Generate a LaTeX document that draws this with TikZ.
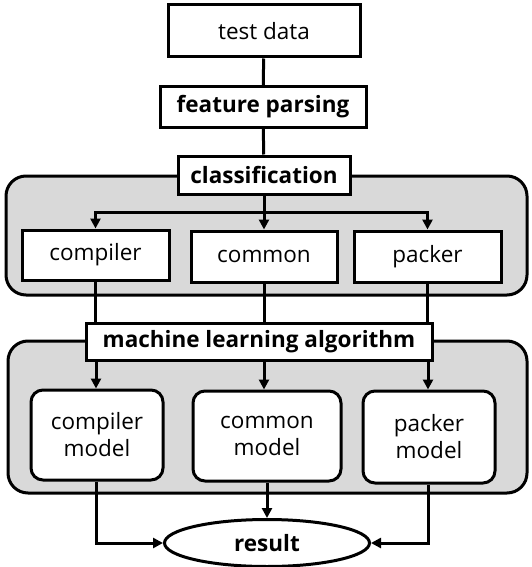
\documentclass[tikz,border=0pt]{standalone}
\usepackage{fontspec}
\setmainfont{Open Sans}
\usetikzlibrary{arrows.meta,shapes.geometric}
\begin{document}
\begin{tikzpicture}[x=1pt,y=-1pt,
  box/.style={draw,line width=3pt,fill=white,inner sep=0pt,font=\fontsize{22.5}{27}\selectfont},
  bbox/.style={box,font=\fontsize{22.5}{27}\selectfont\bfseries},
  mbox/.style={box,rounded corners=12pt,align=center},
  group/.style={draw,line width=3pt,fill=black!15,rounded corners=20pt},
  link/.style={line width=3pt},
  arr/.style={link,-{Triangle[length=10pt,width=10pt]}}]
\pgfmathsetmacro{\ka}{96}
\pgfmathsetmacro{\kb}{264}
\pgfmathsetmacro{\kc}{428}
\useasboundingbox (0,0) rectangle (531,567);
%groups
\draw[group] (6,176) rectangle (527,295);
\draw[group] (8,341) rectangle (527,493);
%
\node[box,minimum width=192pt,minimum height=52pt] (test) at (\kb,31) {test data};
\node[bbox,minimum width=206pt,minimum height=41pt] (feat) at (263,107) {feature parsing};
\node[bbox,minimum width=172pt,minimum height=38pt] (class) at (\kb,175) {classification};
\node[box,minimum width=147pt,minimum height=50pt] (comp) at (95.5,255) {compiler};
\node[box,minimum width=146pt,minimum height=51pt] (comm) at (\kb,256.5) {common};
\node[box,minimum width=147pt,minimum height=51pt] (pack) at (427.5,256.5) {packer};
\node[bbox,minimum width=346pt,minimum height=37pt] (mla) at (259,341.5) {machine learning algorithm};
\node[mbox,minimum width=132pt,minimum height=90pt] (compm) at (97,435) {compiler\\model};
\node[mbox,minimum width=148pt,minimum height=90pt] (commm) at (267,436) {common\\model};
\node[mbox,minimum width=132pt,minimum height=92pt] (packm) at (429,437) {packer\\model};
\node[box,ellipse,font=\fontsize{22.5}{27}\selectfont\bfseries,minimum width=205pt,minimum height=47pt] (res) at (267,543) {result};
%links
\draw[link] (test) -- (feat);
\draw[link] (feat) -- (class);
\coordinate (fork) at (\kb,212);
\draw[link] (class) -- (fork);
\draw[arr] (fork) -| (comp.north);
\draw[arr] (fork) -- (comm.north);
\draw[arr] (fork) -| (pack.north);
%
\draw[link] (comp.south) -- (comp.south |- mla.north);
\draw[link] (comm.south) -- (comm.south |- mla.north);
\draw[link] (pack.south) -- (pack.south |- mla.north);
\draw[arr] (\ka,0 |- mla.south) -- (\ka,0 |- compm.north);
\draw[arr] (\kb,0 |- mla.south) -- (\kb,0 |- commm.north);
\draw[arr] (\kc,0 |- mla.south) -- (\kc,0 |- packm.north);
%
\draw[arr] (\ka,0 |- compm.south) |- (res.west);
\draw[arr] (commm.south) -- (res.north);
\draw[arr] (\kc,0 |- packm.south) |- (res.east);
\end{tikzpicture}
\end{document}
